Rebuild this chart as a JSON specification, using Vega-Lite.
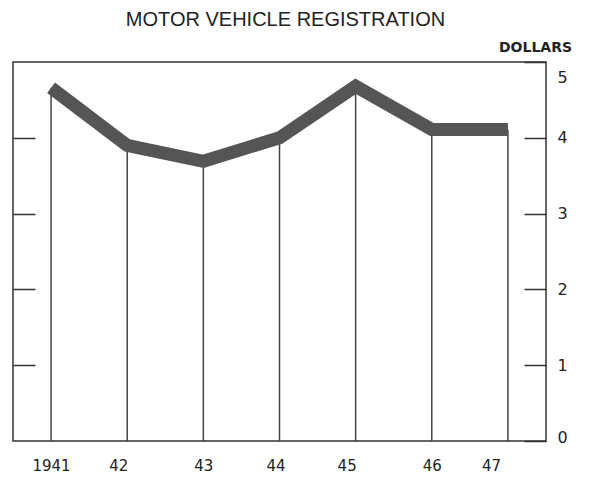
{
  "$schema": "https://vega.github.io/schema/vega-lite/v6.json",
  "autosize": "none",
  "width": 533,
  "height": 379,
  "padding": {"left": 13, "top": 62, "right": 44, "bottom": 40},
  "background": "white",
  "title": {"text": "MOTOR VEHICLE REGISTRATION", "font": "Liberation Sans", "fontSize": 20, "fontWeight": "normal", "color": "#222", "offset": 10, "dx": 6},
  "config": {
    "view": {"stroke": "#333", "strokeWidth": 1.5},
    "axis": {"grid": false, "labelFont": "DejaVu Sans", "labelColor": "#222", "tickColor": "#333", "tickWidth": 1.5}
  },
  "data": {"values": [
    {"year": 1941, "value": 4.66},
    {"year": 1942, "value": 3.90},
    {"year": 1943, "value": 3.69},
    {"year": 1944, "value": 4.00},
    {"year": 1945, "value": 4.68},
    {"year": 1946, "value": 4.11},
    {"year": 1947, "value": 4.11}
  ]},
  "layer": [
    {
      "mark": {"type": "rule", "color": "#444", "strokeWidth": 1.5},
      "encoding": {
        "x": {"field": "year", "type": "quantitative", "scale": {"domain": [1940.5, 1947.5], "nice": false, "zero": false},
          "axis": {"values": [1941, 1942, 1943, 1944, 1945, 1946, 1947], "title": null, "domain": false, "ticks": false, "labelPadding": 17, "labelFontSize": 15,
            "labelExpr": "datum.value == 1941 ? '1941' : substring(toString(datum.value), 2)",
            "labelOffset": {"condition": [{"test": "datum.value == 1942 || datum.value == 1945", "value": -9}, {"test": "datum.value == 1944", "value": -4}, {"test": "datum.value == 1947", "value": -17}], "value": 0}}},
        "y": {"field": "value", "type": "quantitative", "scale": {"domain": [0, 5], "nice": false},
          "axis": {"orient": "left", "values": [1, 2, 3, 4], "labels": false, "domain": false, "tickSize": -22, "title": null}},
        "y2": {"datum": 0}
      }
    },
    {
      "mark": {"type": "line", "color": "#555555", "strokeWidth": 13, "strokeCap": "butt", "strokeJoin": "miter"},
      "encoding": {
        "x": {"field": "year", "type": "quantitative"},
        "y": {"field": "value", "type": "quantitative",
          "axis": {"orient": "right", "values": [0, 1, 2, 3, 4, 5], "domain": false, "tickSize": -22, "labelPadding": 33, "labelFontSize": 16,
            "labelOffset": {"condition": [{"test": "datum.value == 5", "value": 15}, {"test": "datum.value == 0", "value": -4}], "value": 0},
            "title": "DOLLARS", "titleAngle": 0, "titleX": -11, "titleY": -8, "titleAlign": "center", "titleBaseline": "bottom", "titleFont": "DejaVu Sans", "titleFontSize": 14, "titleFontWeight": "bold", "titleColor": "#222"}}
      }
    }
  ],
  "resolve": {"axis": {"y": "independent"}}
}
